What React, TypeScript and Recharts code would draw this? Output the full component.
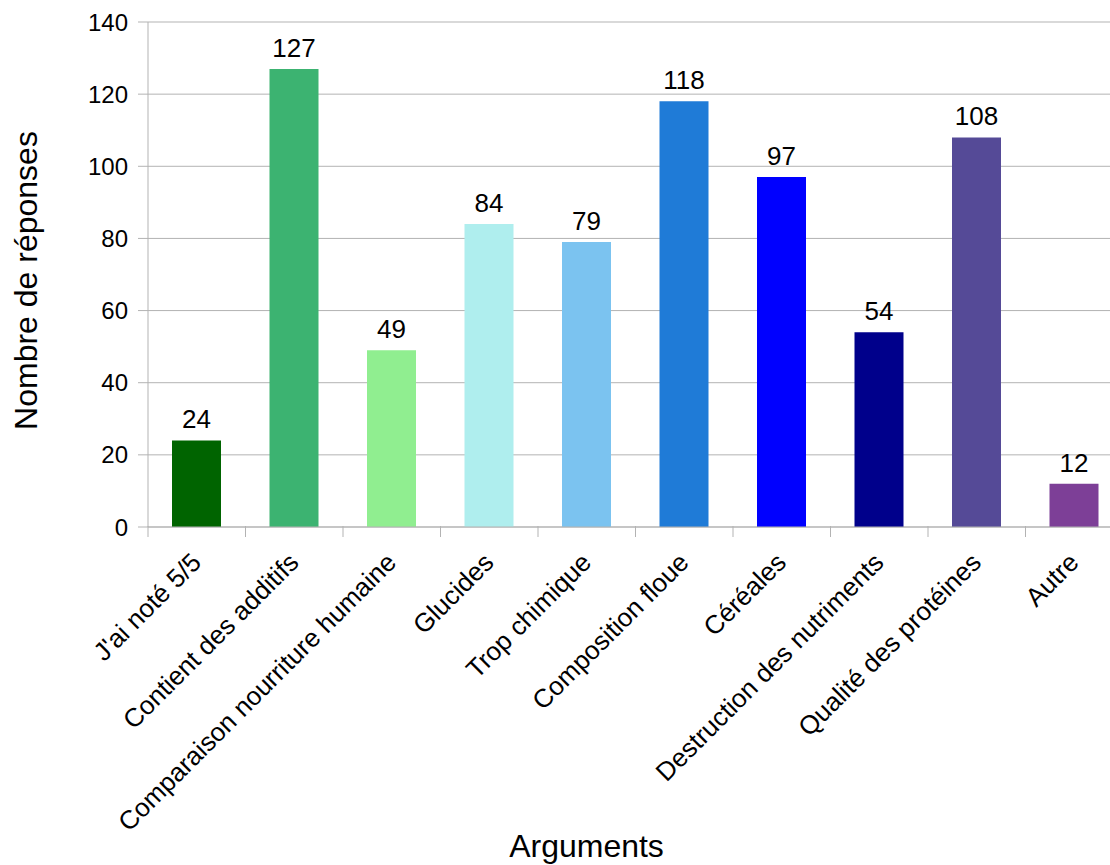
import React from "react";
import { BarChart, Bar, XAxis, YAxis, CartesianGrid, Cell, LabelList } from "recharts";

const categories = [
  "J'ai noté 5/5",
  "Contient des additifs",
  "Comparaison nourriture humaine",
  "Glucides",
  "Trop chimique",
  "Composition floue",
  "Céréales",
  "Destruction des nutriments",
  "Qualité des protéines",
  "Autre",
];
const values = [24, 127, 49, 84, 79, 118, 97, 54, 108, 12];
const colors = [
  "#006400",
  "#3cb371",
  "#90ee90",
  "#afeeee",
  "#7bc3f0",
  "#1f7bd7",
  "#0000ff",
  "#00008b",
  "#554a97",
  "#7d3f97",
];
const yTicks = [0, 20, 40, 60, 80, 100, 120, 140];

const data = categories.map((name, i) => ({ name, value: values[i] }));

const FONT = "'Liberation Sans', Arial, sans-serif";
const GRID = "#b3b3b3";

const XTick = (props: any) => {
  const { x, y, payload, index, visibleTicksCount } = props;
  const half = payload && payload.offset ? payload.offset : 0;
  const isLast = index === (visibleTicksCount ?? categories.length) - 1;
  return (
    <g>
      <line x1={x - half} x2={x - half} y1={y - 1} y2={y + 10} stroke={GRID} strokeWidth={1} />
      {isLast && (
        <line x1={x + half} x2={x + half} y1={y - 1} y2={y + 10} stroke={GRID} strokeWidth={1} />
      )}
      <g transform={`translate(${x + 6},${y + 37})`}>
        <text
          x={0}
          y={0}
          textAnchor="end"
          transform="rotate(-45)"
          fontSize={26}
          fill="#000"
          fontFamily={FONT}
        >
          {payload.value}
        </text>
      </g>
    </g>
  );
};

export default function App() {
  return (
    <div
      style={{
        position: "absolute",
        left: 0,
        top: 0,
        width: 1110,
        height: 865,
        overflow: "hidden",
        background: "#fff",
      }}
    >
      <BarChart
        width={1130}
        height={865}
        data={data}
        margin={{ top: 22, right: 7, left: 0, bottom: 0 }}
        barSize={49}
      >
        <CartesianGrid vertical={false} stroke={GRID} strokeWidth={1} />
        <XAxis
          dataKey="name"
          type="category"
          height={338}
          interval={0}
          tickLine={false}
          axisLine={{ stroke: GRID }}
          tickSize={0}
          tickMargin={0}
          tick={<XTick />}
          label={{
            content: (p: any) => {
              const vb = p.viewBox || {};
              return (
                <text
                  x={vb.x + vb.width / 2 - 49}
                  y={857}
                  textAnchor="middle"
                  fontSize={32}
                  fill="#000"
                  fontFamily={FONT}
                >
                  Arguments
                </text>
              );
            },
          }}
        />
        <YAxis
          width={148}
          domain={[0, 140]}
          ticks={yTicks}
          interval={0}
          tickSize={10}
          tickMargin={10}
          tickLine={{ stroke: GRID }}
          axisLine={{ stroke: GRID }}
          tick={{ fontSize: 24, fill: "#000", fontFamily: FONT }}
          label={{
            content: (p: any) => {
              const vb = p.viewBox || {};
              const cy = vb.y + vb.height / 2 + 6;
              return (
                <text
                  x={37}
                  y={cy}
                  textAnchor="middle"
                  transform={`rotate(-90, 37, ${cy})`}
                  fontSize={32}
                  fill="#000"
                  fontFamily={FONT}
                >
                  Nombre de réponses
                </text>
              );
            },
          }}
        />
        <Bar dataKey="value" isAnimationActive={false}>
          {data.map((d, i) => (
            <Cell key={d.name} fill={colors[i]} />
          ))}
          <LabelList
            dataKey="value"
            position="top"
            offset={12}
            fontSize={26}
            fill="#000"
            fontFamily={FONT}
          />
        </Bar>
      </BarChart>
    </div>
  );
}
